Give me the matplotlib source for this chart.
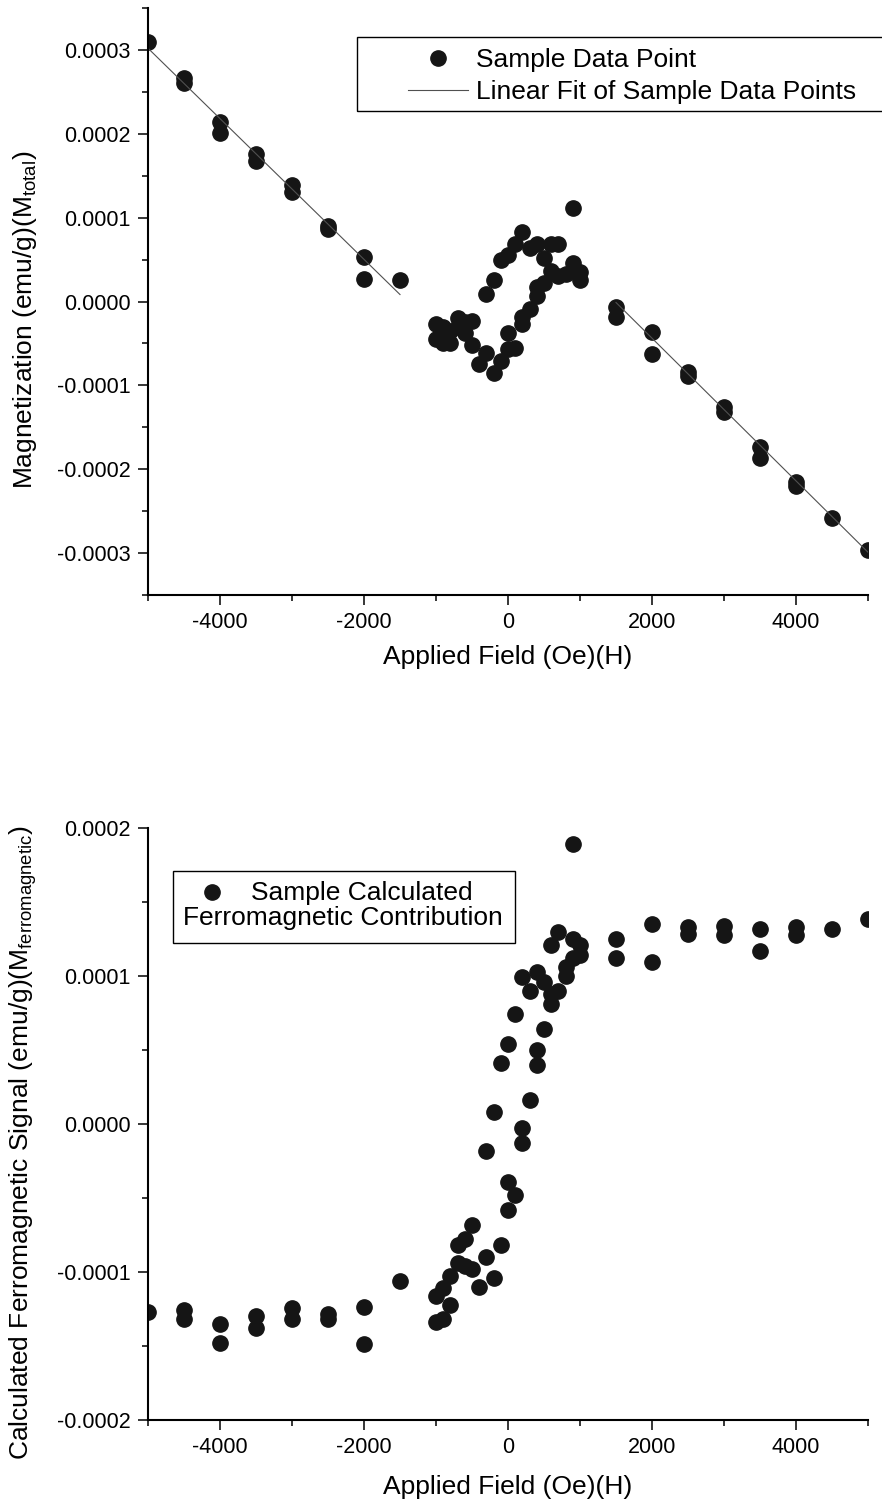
import matplotlib
matplotlib.use("Agg")
import matplotlib.pyplot as plt
from matplotlib.ticker import MultipleLocator, FuncFormatter
from matplotlib.patches import Rectangle

plt.rcParams["font.family"] = ["Liberation Sans", "DejaVu Sans"]
plt.rcParams["mathtext.fontset"] = "custom"
plt.rcParams["mathtext.rm"] = "Liberation Sans"
plt.rcParams["mathtext.it"] = "Liberation Sans"
plt.rcParams["axes.unicode_minus"] = False

# --- total magnetization vs applied field (top panel) ---
field_total = [-5000, -4500, -4500, -4000, -4000, -3500, -3500, -3000, -3000,
               -2500, -2500, -2000, -2000, -1500,
               -1000, -1000, -900, -900, -800, -800, -700, -700, -600, -600,
               -500, -500, -400, -300, -300, -200, -200, -100, -100,
               0, 0, 0, 100, 100, 200, 200, 200, 300, 300,
               400, 400, 400, 500, 500, 600, 600, 700, 700, 800,
               900, 900, 1000, 1000,
               1500, 1500, 2000, 2000, 2500, 2500, 3000, 3000,
               3500, 3500, 4000, 4000, 4500, 5000]
mag_total = [0.000310, 0.000267, 0.000260, 0.000214, 0.000201, 0.000176, 0.000167,
             0.000139, 0.000130, 0.0000905, 0.0000869, 0.0000536, 0.0000274, 0.0000262,
             -0.000027, -0.000045, -0.000031, -0.000050, -0.000035, -0.000049,
             -0.000020, -0.000031, -0.000024, -0.000038,
             -0.000023, -0.000052, -0.000074, 0.000009, -0.000061, 0.000026, -0.000085,
             0.000050, -0.000071,
             0.000056, -0.000037, -0.000057, 0.000068, -0.000055,
             0.000083, -0.000027, -0.000019, 0.000064, -0.000009,
             0.000069, 0.000017, 0.000007, 0.000052, 0.000022, 0.000069, 0.000036,
             0.000068, 0.000030, 0.000033,
             0.000111, 0.000046, 0.000035, 0.000026,
             -0.0000060, -0.0000179, -0.0000369, -0.0000631, -0.0000845, -0.0000893,
             -0.000126, -0.000132, -0.000173, -0.000187, -0.000215, -0.000220,
             -0.000258, -0.000296]

# linear fits of the high-field parts
fit_left_field = [-5000, -1500]
fit_left_mag = [0.000302, 0.0000083]
fit_right_field = [1500, 5000]
fit_right_mag = [-0.0000012, -0.000299]

# --- calculated ferromagnetic contribution (bottom panel) ---
field_ferro = [-5000, -4500, -4500, -4000, -4000, -3500, -3500, -3000, -3000,
               -2500, -2500, -2000, -2000, -1500,
               -1000, -1000, -900, -900, -800, -800, -700, -700, -600, -600,
               -500, -500, -400, -300, -300, -200, -200, -100, -100,
               0, 0, 0, 100, 100, 200, 200, 200, 300, 300,
               400, 400, 400, 500, 500, 600, 600, 600, 700, 700, 800, 800,
               900, 900, 900, 1000, 1000,
               1500, 1500, 2000, 2000, 2500, 2500, 3000, 3000,
               3500, 3500, 4000, 4000, 4500, 5000]
mag_ferro = [-0.000127, -0.000126, -0.000132, -0.000135, -0.000148, -0.000130, -0.000138,
             -0.0001245, -0.000132, -0.0001286, -0.0001317, -0.0001234, -0.0001487, -0.000106,
             -0.000116, -0.000134, -0.000111, -0.000132, -0.000103, -0.000122,
             -0.000082, -0.000094, -0.000078, -0.000096,
             -0.000068, -0.000098, -0.000110, -0.000018, -0.000090, 0.000008, -0.000104,
             0.000041, -0.000082,
             0.000054, -0.000039, -0.000058, 0.000074, -0.000048,
             0.000099, -0.000003, -0.000013, 0.000090, 0.000016,
             0.000103, 0.000050, 0.000040, 0.000096, 0.000064,
             0.000121, 0.000088, 0.000081, 0.000130, 0.000090, 0.000106, 0.000100,
             0.000189, 0.000125, 0.000112, 0.000121, 0.000114,
             0.000125, 0.000112, 0.0001354, 0.0001094, 0.0001331, 0.0001286,
             0.0001335, 0.0001275, 0.0001315, 0.0001168, 0.0001331, 0.0001275,
             0.0001315, 0.0001388]

W, H = 882, 1506
fig = plt.figure(figsize=(W / 100, H / 100), dpi=100)


def px_box(left, top, right, bottom):
    return [left / W, 1 - bottom / H, (right - left) / W, (bottom - top) / H]


def style_axes(ax, ylim):
    ax.set_xlim(-5000, 5000)
    ax.set_ylim(*ylim)
    for side in ("top", "right"):
        ax.spines[side].set_visible(False)
    for side in ("left", "bottom"):
        ax.spines[side].set_linewidth(1.5)
    ax.xaxis.set_major_locator(MultipleLocator(2000))
    ax.xaxis.set_minor_locator(MultipleLocator(1000))
    ax.yaxis.set_major_locator(MultipleLocator(0.0001))
    ax.yaxis.set_minor_locator(MultipleLocator(0.00005))
    ax.yaxis.set_major_formatter(FuncFormatter(lambda v, p: f"{round(v, 4) + 0.0:.4f}"))
    ax.xaxis.set_major_formatter(FuncFormatter(lambda v, p: f"{int(round(v))}"))
    ax.tick_params(which="major", direction="out", length=7.5, width=1.1,
                   labelsize=15.5, pad=5)
    ax.tick_params(which="minor", direction="out", length=4, width=1.1)


dot = dict(ls="none", marker="o", ms=11, color="#151515", mec="#151515")

# top panel
ax1 = fig.add_axes(px_box(148, 8, 868, 595))
ax1.plot(field_total, mag_total, label="Sample Data Point", **dot)
ax1.plot(fit_left_field, fit_left_mag, color="#505050", lw=0.8,
         label="Linear Fit of Sample Data Points")
ax1.plot(fit_right_field, fit_right_mag, color="#505050", lw=0.8)
style_axes(ax1, (-0.00035, 0.00035))
ax1.set_xlabel("Applied Field (Oe)(H)", fontsize=19)
ax1.set_ylabel("Magnetization (emu/g)(M$_{\\mathrm{total}}$)", fontsize=19)
ax1.xaxis.set_label_coords(0.5, -0.085)
ax1.yaxis.set_label_coords(-0.151, 0.468)
ax1.legend(loc="upper left", bbox_to_anchor=(408 / W, 1 - 48 / H),
           bbox_transform=fig.transFigure, frameon=False, fontsize=19,
           handlelength=2.27, handletextpad=0.3, labelspacing=0.3,
           borderpad=0, borderaxespad=0)
fig.patches.append(Rectangle((357 / W, 1 - 111 / H), 560 / W, 74 / H,
                             transform=fig.transFigure, fill=False,
                             ec="black", lw=1))

# bottom panel
ax2 = fig.add_axes(px_box(148, 828, 868, 1420))
ax2.plot(field_ferro, mag_ferro, **dot)
style_axes(ax2, (-0.0002, 0.0002))
ax2.set_xlabel("Applied Field (Oe)(H)", fontsize=19)
ax2.set_ylabel("Calculated Ferromagnetic Signal (emu/g)(M$_{\\mathrm{ferromagnetic}}$)",
               fontsize=19)
ax2.xaxis.set_label_coords(0.5, -0.093)
ax2.yaxis.set_label_coords(-0.151, 0.469)

# legend box of the bottom panel, two-line label
fig.patches.append(Rectangle((173 / W, 1 - 943 / H), 342 / W, 72 / H,
                             transform=fig.transFigure, fill=False,
                             ec="black", lw=1))
fig.lines.append(plt.Line2D([212 / W], [1 - 892 / H], transform=fig.transFigure,
                            marker="o", ms=11, color="#151515", ls="none"))
fig.text(251 / W, 1 - 900 / H, "Sample Calculated", fontsize=19, va="baseline")
fig.text(183 / W, 1 - 925 / H, "Ferromagnetic Contribution", fontsize=19, va="baseline")

fig.savefig("out.png", dpi=100, facecolor="white")
